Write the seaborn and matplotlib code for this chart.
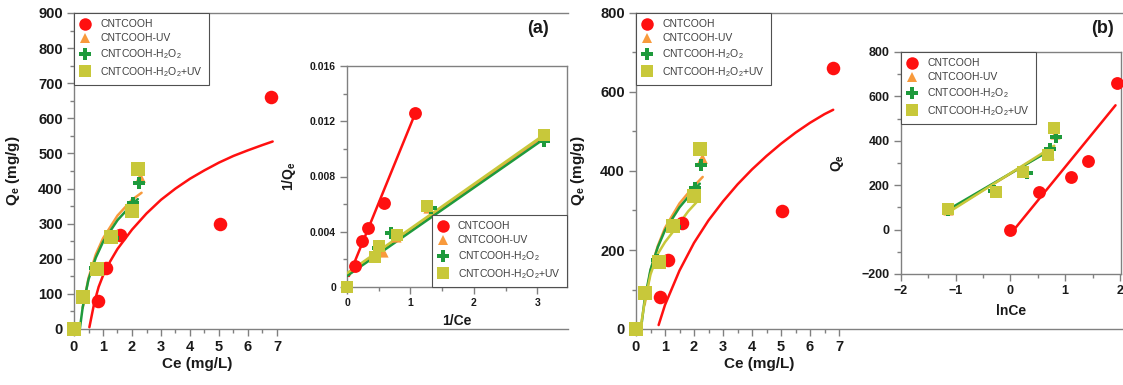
"""Isothermes d'adsorption : Qe vs Ce avec encarts linéarisés (a) et (b)."""

import matplotlib
matplotlib.use("Agg")
import matplotlib.pyplot as plt
import seaborn as sns
from matplotlib.lines import Line2D
from matplotlib.ticker import FixedLocator, MultipleLocator, FuncFormatter

# --- Données expérimentales (communes aux deux panneaux principaux) ---
ce_red = [0.83, 1.1, 1.6, 5.03, 6.8]
qe_red = [80, 174, 268, 299, 662]
ce_uv = [0.0, 0.32, 0.77, 1.3, 2.0, 2.27]
qe_uv = [0, 90, 172, 262, 345, 432]
ce_h2o2 = [0.0, 0.32, 0.74, 1.35, 2.04, 2.25]
qe_h2o2 = [0, 92, 175, 258, 358, 416]
ce_mix = [0.0, 0.32, 0.78, 1.27, 2.0, 2.22]
qe_mix = [0, 92, 170, 261, 336, 455]

# --- Courbes d'ajustement, panneau (a) ---
fit_a_red_ce = [0.53, 0.7, 0.85, 1.0, 1.25, 1.5, 2.0, 2.5, 3.0, 3.5, 4.0, 4.5,
                5.0, 5.5, 6.0, 6.5, 6.85]
fit_a_red_qe = [5, 75, 120, 152, 193, 228, 283, 329, 368, 400, 428, 452,
                474, 493, 509, 524, 534]
fit_a_uv_ce = [0.3, 0.5, 0.75, 1.0, 1.5, 2.0, 2.33]
fit_a_uv_qe = [60, 145, 212, 258, 323, 368, 388]
fit_a_h2o2_ce = [0.2, 0.3, 0.5, 0.75, 1.0, 1.5, 2.0, 2.2]
fit_a_h2o2_qe = [0, 62, 141, 203, 248, 310, 355, 370]

# --- Encart (a) : 1/Qe vs 1/Ce ---
inv_ce_red = [0.13, 0.24, 0.33, 0.58, 1.07]
inv_qe_red = [0.0015, 0.0033, 0.0043, 0.0061, 0.0126]
inv_ce_uv = [0.0, 0.44, 0.57, 0.77, 1.28, 3.1]
inv_qe_uv = [0.0, 0.0023, 0.0025, 0.0036, 0.0057, 0.0109]
inv_ce_h2o2 = [0.0, 0.44, 0.49, 0.70, 1.33, 3.1]
inv_qe_h2o2 = [0.0, 0.0024, 0.0028, 0.0039, 0.0057, 0.0106]
inv_ce_mix = [0.0, 0.44, 0.5, 0.79, 1.26, 3.1]
inv_qe_mix = [0.0, 0.0022, 0.003, 0.0038, 0.0059, 0.011]

lin_a_red_x = [0.03, 1.07]
lin_a_red_y = [0.0008, 0.0125]
lin_a_uv_x = [0.0, 3.1]
lin_a_uv_y = [0.0009, 0.0109]
lin_a_h2o2_x = [0.0, 3.1]
lin_a_h2o2_y = [0.0008, 0.0107]
lin_a_mix_x = [0.0, 3.1]
lin_a_mix_y = [0.001, 0.011]

# --- Courbes d'ajustement, panneau (b) ---
fit_b_red_ce = [0.78, 1.0, 1.5, 2.0, 2.5, 3.0, 3.5, 4.0, 4.5, 5.0, 5.5, 6.0, 6.5, 6.8]
fit_b_red_qe = [10, 61, 148, 218, 275, 323, 366, 404, 438, 469, 497, 522, 544, 555]
fit_b_uv_ce = [0.3, 0.5, 0.75, 1.0, 1.5, 2.0, 2.3]
fit_b_uv_qe = [62, 148, 210, 256, 318, 362, 385]
fit_b_h2o2_ce = [0.17, 0.3, 0.5, 0.75, 1.0, 1.5, 2.0, 2.2]
fit_b_h2o2_qe = [0, 75, 150, 207, 250, 308, 352, 368]
fit_b_mix_ce = [0.15, 0.3, 0.5, 0.75, 1.0, 1.4, 1.8, 2.2]
fit_b_mix_qe = [0, 68, 138, 190, 220, 258, 298, 330]

# --- Encart (b) : Qe vs lnCe ---
ln_ce_red = [0.0, 0.52, 1.1, 1.42, 1.95]
ln_qe_red = [0, 168, 235, 307, 662]
ln_ce_uv = [-1.14, -0.27, 0.25, 0.7, 0.81]
ln_qe_uv = [90, 170, 260, 340, 430]
ln_ce_h2o2 = [-1.14, -0.3, 0.3, 0.72, 0.84]
ln_qe_h2o2 = [88, 175, 255, 365, 415]
ln_ce_mix = [-1.14, -0.27, 0.23, 0.69, 0.8]
ln_qe_mix = [92, 168, 259, 336, 458]

lin_b_red_x = [0.0, 1.92]
lin_b_red_y = [-20, 560]
lin_b_uv_x = [-1.15, 0.8]
lin_b_uv_y = [80, 372]
lin_b_h2o2_x = [-1.15, 0.8]
lin_b_h2o2_y = [88, 368]
lin_b_mix_x = [-1.15, 0.8]
lin_b_mix_y = [75, 378]

labels = ["CNTCOOH", "CNTCOOH-UV", "CNTCOOH-H$_2$O$_2$", "CNTCOOH-H$_2$O$_2$+UV"]
colors = ["#ff1010", "#f89a3c", "#1e9a3c", "#c8c83a"]
markers = ["o", "^", "P", "s"]
sizes = [95, 60, 85, 95]

SPINE = "#808080"
TEXT = "#1a1a1a"


def scatter_series(ax, xs, ys, scale=1.0):
    """Trace les quatre séries de points (rouge, orange, vert, jaune)."""
    for i, (x, y) in enumerate(zip(xs, ys)):
        sns.scatterplot(x=x, y=y, ax=ax, color=colors[i], marker=markers[i],
                        s=sizes[i] * scale, linewidth=0, clip_on=False,
                        zorder=4 + i)


def line_series(ax, xs, ys, cols):
    for x, y, c in zip(xs, ys, cols):
        sns.lineplot(x=x, y=y, ax=ax, color=c, lw=1.8, sort=False, zorder=3)


def add_legend(ax, loc, fontsize=7.5):
    handles = [Line2D([], [], ls="", marker=m, color=c, markersize=9 if m != "^" else 7.5,
                      markeredgewidth=0) for m, c in zip(markers, colors)]
    leg = ax.legend(handles, labels, loc=loc, borderaxespad=0, fontsize=fontsize,
                    frameon=True, fancybox=False, shadow=False, framealpha=1,
                    handlelength=1.0, handletextpad=0.9, borderpad=0.6,
                    labelspacing=0.38, edgecolor="#505050")
    leg.get_frame().set_linewidth(0.8)
    for t in leg.get_texts():
        t.set_color("#404040")
    leg.set_zorder(10)


def style_axes(ax, labelsize, right=True, top=True):
    for side in ["left", "bottom", "top", "right"]:
        ax.spines[side].set_color(SPINE)
        ax.spines[side].set_linewidth(1.0)
    ax.spines["right"].set_visible(right)
    ax.spines["top"].set_visible(top)
    ax.tick_params(which="major", direction="out", length=5, width=1, color=SPINE,
                   labelsize=labelsize, labelcolor=TEXT, pad=3)
    ax.tick_params(which="minor", direction="out", length=3, width=1, color=SPINE)
    for lab in ax.get_xticklabels() + ax.get_yticklabels():
        lab.set_fontweight("bold")


def main_panel(fig, rect, ymax, ystep, yminor, fits, fit_cols):
    ax = fig.add_axes(rect)
    line_series(ax, [f[0] for f in fits], [f[1] for f in fits], fit_cols)
    scatter_series(ax, [ce_red, ce_uv, ce_h2o2, ce_mix], [qe_red, qe_uv, qe_h2o2, qe_mix])
    width_px = rect[2] * 1123
    ax.set_xlim(0, width_px / 29.0)
    ax.set_ylim(0, ymax)
    ax.xaxis.set_major_locator(FixedLocator(list(range(8))))
    ax.xaxis.set_minor_locator(FixedLocator([i + 0.5 for i in range(7)]))
    ax.yaxis.set_major_locator(MultipleLocator(ystep))
    ax.yaxis.set_minor_locator(MultipleLocator(yminor))
    style_axes(ax, 10.5, right=False, top=True)
    ax.set_xlabel("Ce (mg/L)", fontsize=11, fontweight="bold", color=TEXT)
    ax.set_ylabel("Q$_\\mathbf{e}$ (mg/g)", fontsize=11, fontweight="bold", color=TEXT)
    ax.xaxis.set_label_coords(4.25 / (width_px / 29.0), -0.09)
    add_legend(ax, "upper left")
    return ax


def main():
    sns.set_theme(style="ticks")
    plt.rcParams["font.family"] = ["Liberation Sans", "DejaVu Sans"]
    plt.rcParams["mathtext.fontset"] = "custom"
    plt.rcParams["mathtext.rm"] = "Liberation Sans"
    plt.rcParams["mathtext.bf"] = "Liberation Sans:bold"
    plt.rcParams["mathtext.it"] = "Liberation Sans:italic"
    plt.rcParams["mathtext.default"] = "regular"

    fig = plt.figure(figsize=(11.23, 3.85), dpi=100)

    # Panneau (a)
    ax_a = main_panel(
        fig, [74 / 1123, 56 / 385, 494 / 1123, 316 / 385], 900, 100, 50,
        [(fit_a_red_ce, fit_a_red_qe), (fit_a_uv_ce, fit_a_uv_qe),
         (fit_a_h2o2_ce, fit_a_h2o2_qe)],
        [colors[0], colors[1], colors[2]])
    ax_a.yaxis.set_label_coords(-0.105, 0.5)

    ins_a = fig.add_axes([347 / 1123, 98 / 385, 220 / 1123, 221 / 385], zorder=3)
    line_series(ins_a, [lin_a_red_x, lin_a_uv_x, lin_a_h2o2_x, lin_a_mix_x],
                [lin_a_red_y, lin_a_uv_y, lin_a_h2o2_y, lin_a_mix_y],
                [colors[0], colors[1], colors[2], colors[3]])
    scatter_series(ins_a, [inv_ce_red, inv_ce_uv, inv_ce_h2o2, inv_ce_mix],
                   [inv_qe_red, inv_qe_uv, inv_qe_h2o2, inv_qe_mix], scale=0.9)
    ins_a.set_xlim(0, 3.47)
    ins_a.set_ylim(0, 0.016)
    ins_a.xaxis.set_major_locator(MultipleLocator(1))
    ins_a.xaxis.set_minor_locator(MultipleLocator(0.5))
    ins_a.yaxis.set_major_locator(MultipleLocator(0.004))
    ins_a.yaxis.set_minor_locator(MultipleLocator(0.002))
    ins_a.yaxis.set_major_formatter(FuncFormatter(lambda v, p: "0" if v == 0 else f"{v:.3f}"))
    style_axes(ins_a, 7.5)
    ins_a.set_xlabel("1/Ce", fontsize=10, fontweight="bold", color=TEXT)
    ins_a.set_ylabel("1/Q$_\\mathbf{e}$", fontsize=10, fontweight="bold", color=TEXT)
    ins_a.xaxis.set_label_coords(0.5, -0.12)
    ins_a.yaxis.set_label_coords(-0.225, 0.5)
    add_legend(ins_a, "lower right")

    # Panneau (b)
    ax_b = main_panel(
        fig, [636 / 1123, 56 / 385, 486 / 1123, 316 / 385], 800, 200, 100,
        [(fit_b_red_ce, fit_b_red_qe), (fit_b_uv_ce, fit_b_uv_qe),
         (fit_b_h2o2_ce, fit_b_h2o2_qe), (fit_b_mix_ce, fit_b_mix_qe)],
        [colors[0], colors[1], colors[2], colors[3]])
    ax_b.yaxis.set_label_coords(-0.1, 0.5)

    ins_b = fig.add_axes([901 / 1123, 111 / 385, 220 / 1123, 222 / 385], zorder=3)
    line_series(ins_b, [lin_b_red_x, lin_b_uv_x, lin_b_h2o2_x, lin_b_mix_x],
                [lin_b_red_y, lin_b_uv_y, lin_b_h2o2_y, lin_b_mix_y],
                [colors[0], colors[1], colors[2], colors[3]])
    scatter_series(ins_b, [ln_ce_red, ln_ce_uv, ln_ce_h2o2, ln_ce_mix],
                   [ln_qe_red, ln_qe_uv, ln_qe_h2o2, ln_qe_mix], scale=0.9)
    ins_b.set_xlim(-2, 2.02)
    ins_b.set_ylim(-200, 800)
    ins_b.xaxis.set_major_locator(MultipleLocator(1))
    ins_b.xaxis.set_minor_locator(MultipleLocator(0.5))
    ins_b.yaxis.set_major_locator(MultipleLocator(200))
    ins_b.yaxis.set_minor_locator(MultipleLocator(100))
    style_axes(ins_b, 9)
    ins_b.set_xlabel("lnCe", fontsize=10, fontweight="bold", color=TEXT)
    ins_b.set_ylabel("Q$_\\mathbf{e}$", fontsize=10, fontweight="bold", color=TEXT)
    ins_b.xaxis.set_label_coords(0.5, -0.135)
    ins_b.yaxis.set_label_coords(-0.25, 0.5)
    add_legend(ins_b, "upper left")

    fig.text(538 / 1123, 0.925, "(a)", fontsize=13, fontweight="bold",
             ha="center", va="center", color=TEXT)
    fig.text(1103 / 1123, 0.925, "(b)", fontsize=13, fontweight="bold",
             ha="center", va="center", color=TEXT)

    fig.savefig("out.png", dpi=100)
    plt.close(fig)


if __name__ == "__main__":
    main()
